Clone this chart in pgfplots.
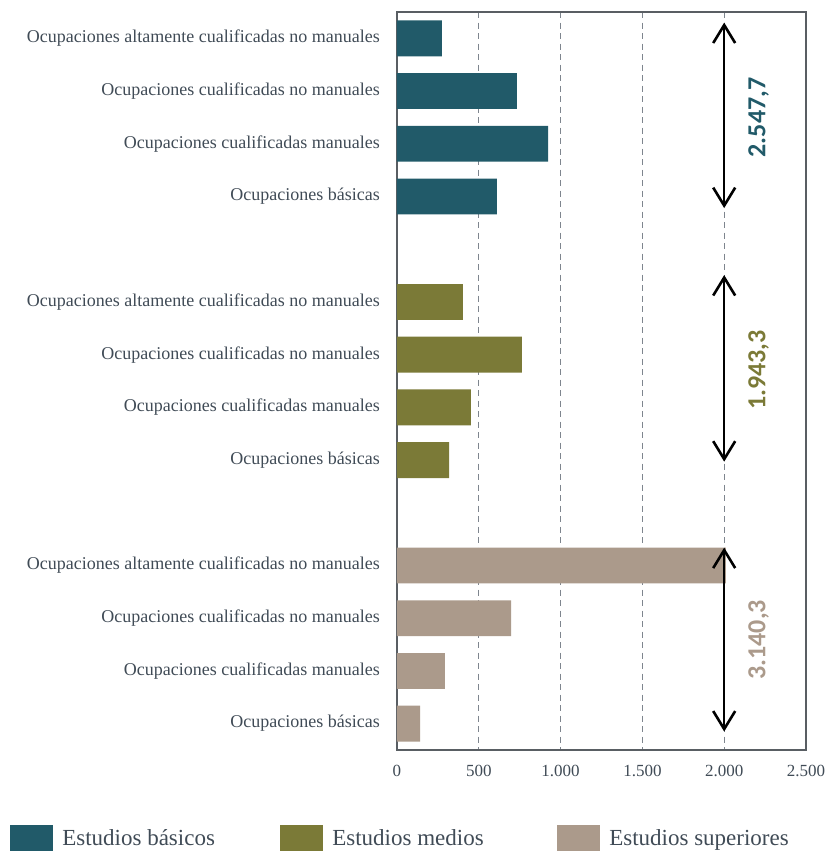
\documentclass[border=0pt]{standalone}
\usepackage{fontspec}
\setmainfont{Liberation Serif}
\newfontfamily\valfont{Carlito}
\usepackage{pgfplots}
\pgfplotsset{compat=1.18}
\usetikzlibrary{arrows.meta}
\definecolor{cTeal}{HTML}{215A69}
\definecolor{cOlive}{HTML}{7B7A37}
\definecolor{cTaupe}{HTML}{AB9A8B}
\definecolor{cText}{HTML}{404B56}
\definecolor{cFrame}{HTML}{595E63}
\definecolor{cGrid}{HTML}{7E858E}
\begin{document}
\begin{tikzpicture}
\path[use as bounding box] (0,0) rectangle (828pt,852pt);
\begin{axis}[
  at={(397pt,102pt)}, anchor=south west,
  scale only axis, width=409pt, height=738pt,
  xbar, bar shift=0pt, bar width=0.68,
  xmin=0, xmax=2500, ymin=-0.5, ymax=13.5, y dir=reverse,
  clip=false,
  xtick={0,500,1000,1500,2000,2500},
  ytick={0,1,2,3,5,6,7,8,10,11,12,13},
  yticklabels={Ocupaciones altamente cualificadas no manuales,
    Ocupaciones cualificadas no manuales,
    Ocupaciones cualificadas manuales,
    Ocupaciones básicas,
    Ocupaciones altamente cualificadas no manuales,
    Ocupaciones cualificadas no manuales,
    Ocupaciones cualificadas manuales,
    Ocupaciones básicas,
    Ocupaciones altamente cualificadas no manuales,
    Ocupaciones cualificadas no manuales,
    Ocupaciones cualificadas manuales,
    Ocupaciones básicas},
  major tick length=0pt,
  tick style={draw=none},
  xmajorgrids, grid style={cGrid, line width=1.3pt, dash pattern=on 6pt off 4.5pt},
  axis line style={cFrame, line width=1.5pt},
  /pgf/number format/.cd, use comma, 1000 sep={.}, assume math mode=true,
  /pgfplots/.cd,
  xticklabel style={font=\fontsize{17}{17}\selectfont, text=cText, inner sep=0pt, yshift=-15pt},
  yticklabel style={font=\fontsize{18}{18}\selectfont, text=cText, inner sep=0pt, xshift=-17pt},
  legend columns=3,
  legend image code/.code={\fill[#1,draw=none] (0pt,-13pt) rectangle (43pt,13pt);},
  legend style={at={(axis description cs:-0.946,-0.119)}, anchor=west, draw=none, fill=none,
    inner sep=0pt, font=\fontsize{23}{23}\selectfont, text=cText,
    nodes={inner sep=0pt},
    /tikz/every odd column/.append style={column sep=9pt},
    /tikz/every even column/.append style={column sep=0pt}},
]
\addplot[fill=cTeal, draw=none] coordinates {(275,0) (733,1) (923,2) (611,3)};
\addlegendentry{\makebox[218pt][l]{Estudios básicos}}
\addplot[fill=cOlive, draw=none] coordinates {(403,5) (764,6) (452,7) (318,8)};
\addlegendentry{\makebox[225pt][l]{Estudios medios}}
\addplot[fill=cTaupe, draw=none] coordinates {(2010,10) (697,11) (293,12) (141,13)};
\addlegendentry{Estudios superiores}
\draw[line width=2.6pt, {Straight Barb[length=18pt,width=22pt]}-{Straight Barb[length=18pt,width=22pt]}]
  (axis cs:2000,-0.3) -- (axis cs:2000,3.22);
\draw[line width=2.6pt, {Straight Barb[length=18pt,width=22pt]}-{Straight Barb[length=18pt,width=22pt]}]
  (axis cs:2000,4.49) -- (axis cs:2000,8.03);
\draw[line width=2.6pt, {Straight Barb[length=18pt,width=22pt]}-{Straight Barb[length=18pt,width=22pt]}]
  (axis cs:2000,9.66) -- (axis cs:2000,13.15);
\node[rotate=90, text=cTeal, font=\valfont\bfseries\fontsize{26}{26}\selectfont] at (axis cs:2210,1.5) {2.547,7};
\node[rotate=90, text=cOlive, font=\valfont\bfseries\fontsize{26}{26}\selectfont] at (axis cs:2210,6.29) {1.943,3};
\node[rotate=90, text=cTaupe, font=\valfont\bfseries\fontsize{26}{26}\selectfont] at (axis cs:2210,11.41) {3.140,3};
\end{axis}
\end{tikzpicture}
\end{document}
